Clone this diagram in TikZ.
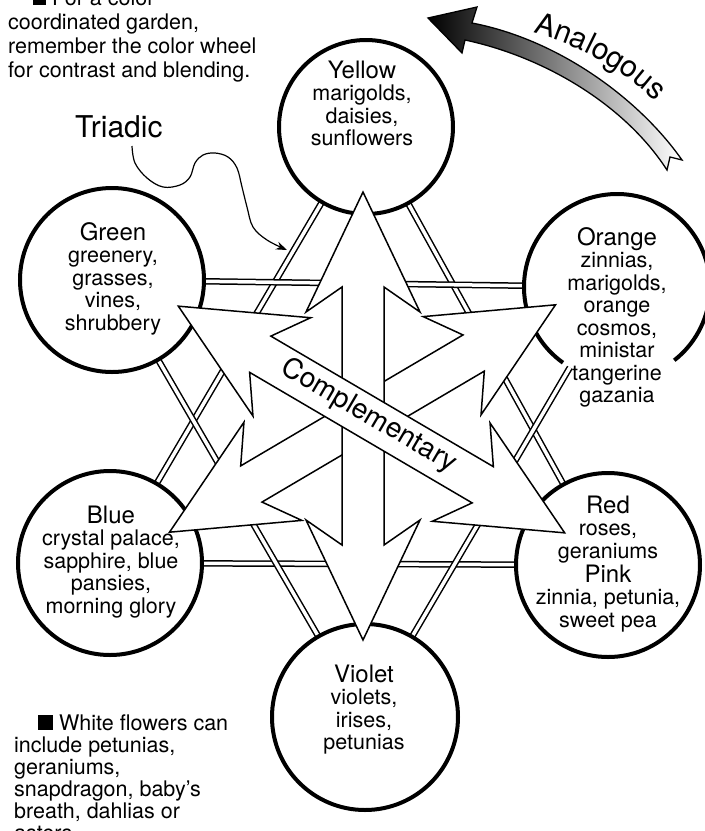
\documentclass[tikz,border=0pt]{standalone}
\usepackage{fontspec}
\setmainfont{TeX Gyre Heros}
\usetikzlibrary{arrows.meta,decorations.text,backgrounds}
\newcommand\ttl{\fontsize{24}{22.5}\selectfont}
\newcommand\bdy{\fontsize{21.5}{22.5}\selectfont}
\newcommand\comparrow[2]{\draw[comp, shift={#1}, rotate=#2] (224,0) -- (104,57) -- (129,21) -- (-129,21) -- (-104,57) -- (-224,0) -- (-104,-57) -- (-129,-21) -- (129,-21) -- (104,-57) -- cycle;}
\begin{document}
\begin{tikzpicture}[x=1pt,y=-1pt,
  bubble/.style={circle, draw=black, line width=4pt, fill=white, inner sep=0pt, outer sep=0pt},
  triad/.style={draw=black, line width=1.5pt, double=white, double distance=3.5pt},
  comp/.style={draw=black, line width=1.5pt, fill=white, line join=miter},
  ctext/.style={anchor=base, inner sep=0pt, font=\bdy},
  note/.style={anchor=base west, inner sep=0pt},
]
\useasboundingbox (0,0) rectangle (705,831);
\clip (0,0) rectangle (705,831);

% circles
\node[bubble, minimum size=174pt] (Y) at (366,127) {};
\node[bubble, minimum size=184pt] (G) at (112,280) {};
\node[bubble, draw=none, minimum size=186pt] (O) at (617,287) {};
\node[bubble, minimum size=184pt] (B) at (110,563) {};
\node[bubble, minimum size=184pt] (R) at (608,565) {};
\node[bubble, minimum size=186pt] (V) at (365,717) {};
\draw[line width=4pt] (O.center) ++(125.5:93) arc[start angle=125.5, end angle=412, radius=93];

% triadic double lines
\begin{scope}[on background layer]
  \fill[white] (0,0) rectangle (705,831);
  \draw[triad] (Y) -- (B);
  \draw[triad] (B) -- (R);
  \draw[triad] (R) -- (Y);
  \draw[triad] (G) -- (O);
  \draw[triad] (O) -- (V);
  \draw[triad] (V) -- (G);
\end{scope}

% complementary arrows
\comparrow{(362.5,418.5)}{30.5}
\comparrow{(363,416)}{90}
\comparrow{(371.5,419.5)}{-30.4}
\node[rotate=-30.4, inner sep=0pt, font=\fontsize{28}{30}\selectfont] (comptext) at (369,416) {Complementary};

% circle texts
\node[ctext] (Yt) at (362,78) {\begin{tabular}[t]{@{}c@{}}{\ttl Yellow}\\marigolds,\\daisies,\\sunflowers\end{tabular}};
\node[ctext] (Gt) at (113,240) {\begin{tabular}[t]{@{}c@{}}{\ttl Green}\\greenery,\\grasses,\\vines,\\shrubbery\end{tabular}};
\node[ctext] (Ot) at (617,245) {\begin{tabular}[t]{@{}c@{}}{\ttl Orange}\\zinnias,\\marigolds,\\orange\\cosmos,\\ministar\\tangerine\\gazania\end{tabular}};
\node[ctext] (Bt) at (111,523) {\begin{tabular}[t]{@{}c@{}}{\ttl Blue}\\crystal palace,\\sapphire, blue\\pansies,\\morning glory\end{tabular}};
\node[ctext] (Rt) at (608,513) {\begin{tabular}[t]{@{}c@{}}{\ttl Red}\\roses,\\geraniums\\{\ttl Pink}\\zinnia, petunia,\\sweet pea\end{tabular}};
\node[ctext] (Vt) at (364,682) {\begin{tabular}[t]{@{}c@{}}{\ttl Violet}\\violets,\\irises,\\petunias\end{tabular}};

% analogous arrow
\path[draw=black, line width=1.3pt, left color=black, right color=white, line join=miter]
  (428,18) -- (477,7) -- (472,23) .. controls (560,40) and (640,100) .. (682,160)
  -- (670,157) -- (667,170) .. controls (625,105) and (545,57) .. (465,40) -- (462,53) -- cycle;
\path[decorate, decoration={text along path, text={|\fontsize{30}{30}\selectfont|Analogous}}]
  (533,33) .. controls (580,45) and (630,72) .. (665,112);

% triadic label and pointer
\node[note, font=\fontsize{30}{30}\selectfont] (triadic) at (75,137) {Triadic};
\coordinate (tstart) at (132,146);
\coordinate (ttip) at (287,250);
\draw[line width=1.2pt, -{Stealth[length=11pt,width=8pt]}] plot[smooth, tension=0.6] coordinates {(tstart) (135,163) (147,178) (163,187) (180,185) (190,177) (195,163) (203,155) (215,153) (228,157) (237,168) (242,187) (247,207) (253,227) (267,240) (ttip)};

% notes
\node[note, font=\fontsize{21.5}{24}\selectfont] (note1) at (8,5) {\begin{tabular}[t]{@{}l@{}}\hspace*{25pt}\rule{13pt}{13pt} For a color-\\coordinated garden,\\remember the color wheel\\for contrast and blending.\end{tabular}};
\node[note, font=\fontsize{21.5}{22}\selectfont] (note2) at (14,730) {\begin{tabular}[t]{@{}l@{}}\hspace*{24pt}\rule{15pt}{15pt} White flowers can\\include petunias,\\geraniums,\\snapdragon, baby's\\breath, dahlias or\\asters.\end{tabular}};
\end{tikzpicture}
\end{document}
